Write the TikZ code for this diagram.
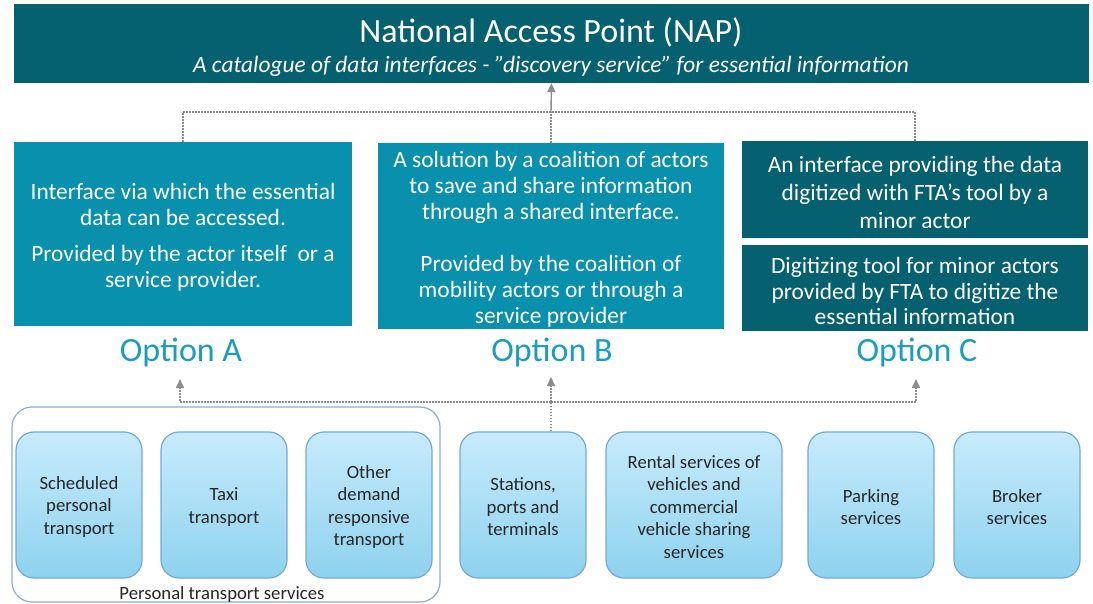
\documentclass[tikz,border=0pt]{standalone}
\usepackage{fontspec}
\setmainfont{Carlito}
\usetikzlibrary{arrows.meta}
\definecolor{napteal}{HTML}{05606F}
\definecolor{optblue}{HTML}{0890AC}
\definecolor{optlabel}{HTML}{1B9DC1}
\definecolor{svctop}{HTML}{C7EBFC}
\definecolor{svcbot}{HTML}{8ED2EE}
\definecolor{svcline}{HTML}{74A9DC}
\definecolor{grpline}{HTML}{8AB0D8}
\definecolor{linkgray}{HTML}{8C8C8C}
\definecolor{svctext}{HTML}{262626}
\tikzset{
  optbox/.style={fill=optblue, inner sep=0pt},
  darkbox/.style={fill=napteal, inner sep=0pt},
  boxtext/.style={text=white, align=center, inner sep=0pt,
    font=\fontsize{23.4}{26}\selectfont},
  optname/.style={text=optlabel, font=\fontsize{34}{36}\selectfont, inner sep=0pt},
  svcbox/.style={draw=svcline, line width=1.2pt, rounded corners=18pt,
    top color=svctop, bottom color=svcbot, minimum height=146pt, inner sep=0pt},
  svctxt/.style={align=center, text=svctext, inner sep=0pt,
    font=\fontsize{18.7}{22.5}\selectfont},
  link/.style={draw=linkgray, line width=1.6pt, dash pattern=on 1.6pt off 1.4pt},
  linkarrow/.style={link, -{Triangle[length=9pt,width=8pt]}},
}
\begin{document}
\begin{tikzpicture}[x=1pt, y=-1pt]
\useasboundingbox (0,0) rectangle (1093,604);
\fill[white] (0,0) rectangle (1093,604);

% National Access Point banner
\node[fill=napteal, minimum width=1075pt, minimum height=79pt, inner sep=0pt]
  (nap) at (551.5,43.5) {};
\node[text=white, font=\fontsize{34}{36}\selectfont, inner sep=0pt]
  (naptitle) at (551,32) {National Access Point (NAP)};
\node[text=white, font=\fontsize{23.4}{26}\itshape, inner sep=0pt]
  (napsub) at (551,66.5) {A catalogue of data interfaces - ”discovery service” for essential information};

% Option boxes
\node[optbox, minimum width=338pt, minimum height=184pt] (boxA) at (183,234) {};
\node[boxtext] (boxAtext) at ([yshift=-3pt]boxA.center)
  {Interface via which the essential\\ data can be accessed.\\[10pt]
   Provided by the actor itself\ \ or a\\ service provider.};
\node[optbox, minimum width=346pt, minimum height=186pt] (boxB) at (551,236) {};
\node[boxtext] (boxBtext) at ([yshift=-3pt]boxB.center)
  {A solution by a coalition of actors\\ to save and share information\\
   through a shared interface.\\[26pt]
   Provided by the coalition of\\ mobility actors or through a\\ service provider};
\node[darkbox, minimum width=346pt, minimum height=97pt] (boxCi) at (915,189.5) {};
\node[boxtext, font=\fontsize{23.4}{28}\selectfont] (boxCitext)
  at ([yshift=-3pt]boxCi.center)
  {An interface providing the data\\ digitized with FTA’s tool by a\\ minor actor};
\node[darkbox, minimum width=346pt, minimum height=86pt] (boxCt) at (915,288) {};
\node[boxtext, font=\fontsize{23.4}{25.5}\selectfont] (boxCttext)
  at ([yshift=-3pt]boxCt.center)
  {Digitizing tool for minor actors\\ provided by FTA to digitize the\\ essential information};

\node[optname] (optA) at (181,352) {Option A};
\node[optname] (optB) at (552,352) {Option B};
\node[optname] (optC) at (917,352) {Option C};

% Links from the options up to the NAP
\coordinate (topj) at (551,112);
\draw[link] (boxA.north) |- (topj);
\draw[link] (boxCi.north) |- (topj);
\draw[link] (boxB.north) -- (topj);
\draw[draw=linkgray, line width=1.4pt, -{Triangle[length=9pt,width=8pt]}]
  (topj) -- (nap.south);

% Personal transport services group
\draw[draw=grpline, line width=1.2pt, rounded corners=20pt]
  (12,407) rectangle (440,602);
\node[text=svctext, font=\fontsize{18.7}{20}\selectfont, inner sep=0pt]
  (grplabel) at (222,594.5) {Personal transport services};

% Service boxes
\node[svcbox, minimum width=126pt] (sched) at (79,505) {};
\node[svctxt] (schedtext) at ([yshift=-2pt]sched.center)
  {Scheduled\\ personal\\ transport};
\node[svcbox, minimum width=126pt] (taxi) at (224,505) {};
\node[svctxt] (taxitext) at ([yshift=-2pt]taxi.center)
  {Taxi\\ transport};
\node[svcbox, minimum width=126pt] (demand) at (369,505) {};
\node[svctxt] (demandtext) at ([yshift=-2pt]demand.center)
  {Other\\ demand\\ responsive\\ transport};
\node[svcbox, minimum width=126pt] (stations) at (523,505) {};
\node[svctxt] (stationstext) at ([yshift=-2pt]stations.center)
  {Stations,\\ ports and\\ terminals};
\node[svcbox, minimum width=176pt] (rental) at (694,505) {};
\node[svctxt] (rentaltext) at ([yshift=-2pt]rental.center)
  {Rental services of\\ vehicles and\\ commercial\\ vehicle sharing\\ services};
\node[svcbox, minimum width=126pt] (parking) at (871,505) {};
\node[svctxt] (parkingtext) at ([yshift=-2pt]parking.center)
  {Parking\\ services};
\node[svcbox, minimum width=126pt] (broker) at (1017,505) {};
\node[svctxt] (brokertext) at ([yshift=-2pt]broker.center)
  {Broker\\ services};

% Links from the services up to the options
\coordinate (botj) at (551,402);
\coordinate (tipA) at (180,379);
\coordinate (tipB) at (551,377);
\coordinate (tipC) at (916,379);
\draw[link] (stations.north -| botj) -- (botj);
\draw[linkarrow] (botj) -| (tipA);
\draw[linkarrow] (botj) -| (tipC);
\draw[linkarrow] (botj) -- (tipB);
\end{tikzpicture}
\end{document}
